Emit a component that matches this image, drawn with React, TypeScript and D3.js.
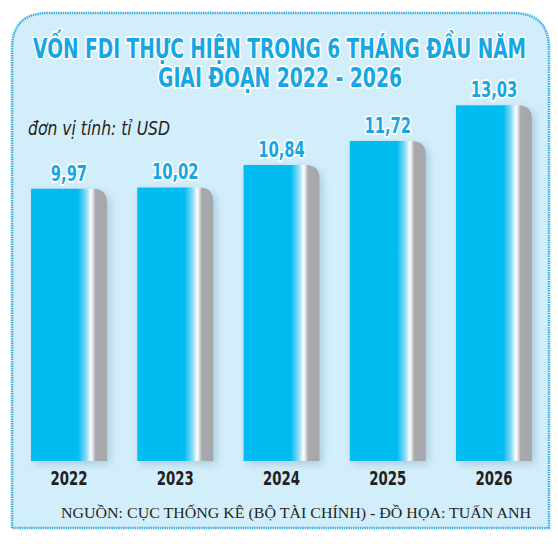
import * as d3 from "d3"

const years = ["2022", "2023", "2024", "2025", "2026"]
const values = [9.97, 10.02, 10.84, 11.72, 13.03]
const valueLabels = ["9,97", "10,02", "10,84", "11,72", "13,03"]
const titleLines = ["VỐN FDI THỰC HIỆN TRONG 6 THÁNG ĐẦU NĂM", "GIAI ĐOẠN 2022 - 2026"]
const unitText = "đơn vị tính: tỉ USD"
const sourceText = "NGUỒN: CỤC THỐNG KÊ (BỘ TÀI CHÍNH) - ĐỒ HỌA: TUẤN ANH"

const narrow = "'Liberation Sans Narrow', 'DejaVu Sans Condensed', 'Roboto Condensed', sans-serif"
const blue = "#16a6e4"

// rough width of a condensed bold label: digit width, comma a bit under half
const labelWidth = (s: string, digit: number) =>
    s.split("").reduce((acc, c) => acc + (c === "," ? digit * 0.45 : digit), 0)

export default function App() {
    const width = 558
    const height = 544
    const x = d3.scaleBand().domain(years).range([31, 532]).paddingInner(0.285).paddingOuter(0)
    const y = d3.scaleLinear().domain([0, 10]).range([461, 188])
    const r = 14
    const sx = 0.82 // horizontal squeeze for the title

    const barPath = (x0: number, top: number, w: number, bottom: number) => {
        const p = d3.path()
        p.moveTo(x0, bottom)
        p.lineTo(x0, top)
        p.lineTo(x0 + w - r, top)
        p.quadraticCurveTo(x0 + w, top, x0 + w, top + r)
        p.lineTo(x0 + w, bottom)
        p.closePath()
        return p.toString()
    }

    // panel: rounded top corners only
    const panel = (() => {
        const p = d3.path()
        const l = 12, t = 13, rr = 549, b = 528, c = 36
        p.moveTo(l, b)
        p.lineTo(l, t + c)
        p.quadraticCurveTo(l, t, l + c, t)
        p.lineTo(rr - c, t)
        p.quadraticCurveTo(rr, t, rr, t + c)
        p.lineTo(rr, b)
        p.closePath()
        return p.toString()
    })()

    return (
        <svg width={width} height={height} style={{ position: "absolute", left: 0, top: 0, background: "#fff" }}>
            <defs>
                <linearGradient id="barGrad" x1="0" x2="1" y1="0" y2="0">
                    <stop offset="0" stopColor="#00bcf1" />
                    <stop offset="0.62" stopColor="#00bcf1" />
                    <stop offset="0.73" stopColor="#8fdcf6" />
                    <stop offset="0.79" stopColor="#ffffff" />
                    <stop offset="0.82" stopColor="#d9dadc" />
                    <stop offset="0.85" stopColor="#a7a9ac" />
                    <stop offset="1" stopColor="#a5a7aa" />
                </linearGradient>
                <filter id="shadow" x="-20%" y="-10%" width="150%" height="130%">
                    <feDropShadow dx="3" dy="3" stdDeviation="4" floodColor="#5a8aa0" floodOpacity="0.35" />
                </filter>
            </defs>

            <path d={panel} fill="#d3eefb" stroke="#3db0e6" strokeWidth={2.5} strokeDasharray="1.5 0.8" />

            {titleLines.map((t, i) => (
                <text key={t} transform={`translate(${i === 0 ? 33 : 158},${i === 0 ? 58 : 87}) scale(${sx},1)`}
                    textLength={(i === 0 ? 493 : 244) / sx} lengthAdjust="spacingAndGlyphs"
                    fontFamily={narrow} fontWeight="bold" fontSize={26.5} fill={blue}
                    stroke="#fff" strokeWidth={3.5} paintOrder="stroke" strokeLinejoin="round">{t}</text>
            ))}

            <text x={28} y={135} fontFamily={narrow} fontStyle="italic" fontSize={20} fill="#231f20"
                textLength={142} lengthAdjust="spacingAndGlyphs">{unitText}</text>

            {years.map((yr, i) => {
                const x0 = x(yr) as number
                const w = x.bandwidth()
                const top = y(values[i])
                const lw = labelWidth(valueLabels[i], 10.5)
                return (
                    <g key={yr}>
                        <path d={barPath(x0, top, w, y(0))} fill="url(#barGrad)" filter="url(#shadow)" />
                        <text x={x0 + w / 2 - lw / 2} y={top - 8}
                            textLength={lw} lengthAdjust="spacingAndGlyphs"
                            fontFamily={narrow} fontWeight="bold"
                            fontSize={21.5} fill={blue} stroke="#fff" strokeWidth={3.5} paintOrder="stroke"
                            strokeLinejoin="round">{valueLabels[i]}</text>
                        <text x={x0 + w / 2 - 18.5} y={485} textLength={37} lengthAdjust="spacingAndGlyphs"
                            fontFamily={narrow} fontWeight="bold"
                            fontSize={20} fill="#231f20">{yr}</text>
                    </g>
                )
            })}

            <text x={61} y={518} fontFamily="'Liberation Serif', 'DejaVu Serif', serif" fontSize={15.5} fill="#231f20"
                textLength={470} lengthAdjust="spacingAndGlyphs">{sourceText}</text>
        </svg>
    )
}
